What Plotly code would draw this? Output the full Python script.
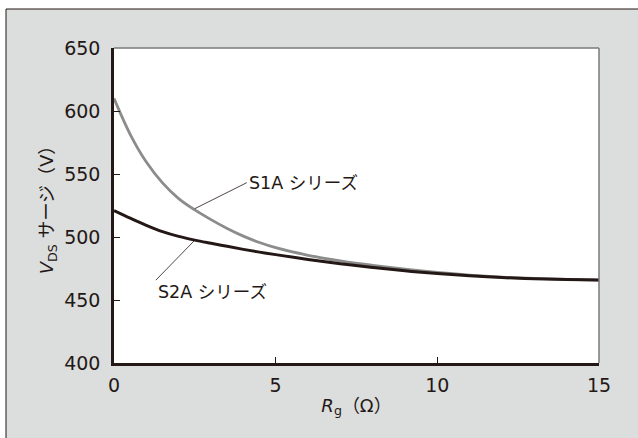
import plotly.graph_objects as go

# ---- data ----
rg_ohm = [0, 0.5, 1, 1.5, 2, 2.5, 3, 3.5, 4, 4.5, 5, 6, 7, 8, 9, 10, 11, 12, 13, 14, 15]
s1a_vds = [610, 581.5, 559.5, 543, 530.5, 521.5, 513.8, 506.8, 500.7, 495.6, 491.5, 485.5, 481, 477.5, 474.5, 471.9, 469.8, 468.2, 467.1, 466.3, 465.8]
s2a_vds = [521, 515, 509.3, 504.3, 500.5, 497.5, 495, 492.6, 490.2, 488, 486, 482.2, 478.8, 475.8, 473.2, 471, 469.2, 467.8, 466.8, 466.2, 465.8]
x_ticks = [0, 5, 10, 15]
y_ticks = [400, 450, 500, 550, 600, 650]
series_names = ["S1A シリーズ", "S2A シリーズ"]

W, H = 638, 438
L, R, T, B = 114, 39, 48, 75
PW, PH = W - L - R, H - T - B

def px_x(p):
    return (p - L) / PW

def px_y(p):
    return (H - B - p) / PH

DARK = "#231815"
GREY_LINE = "#8c8c8c"
PANEL = "#dcdddd"
FONT = "DejaVu Sans, Noto Sans CJK JP, sans-serif"

fig = go.Figure()
fig.add_trace(go.Scatter(x=rg_ohm, y=s1a_vds, mode="lines", name=series_names[0],
                         line=dict(color=GREY_LINE, width=2.8, shape="spline", smoothing=1.0)))
fig.add_trace(go.Scatter(x=rg_ohm, y=s2a_vds, mode="lines", name=series_names[1],
                         line=dict(color=DARK, width=3, shape="spline", smoothing=1.0)))

shapes = [
    # grey panel with thin dark border
    dict(type="rect", xref="paper", yref="paper", x0=px_x(6), x1=px_x(660), y0=px_y(460), y1=px_y(9),
         fillcolor=PANEL, line=dict(color=DARK, width=1), layer="below"),
    # white plot area
    dict(type="rect", xref="paper", yref="paper", x0=0, x1=1, y0=0, y1=1,
         fillcolor="white", line=dict(width=0), layer="below"),
    # top & right frame
    dict(type="line", xref="paper", yref="paper", x0=0, x1=1, y0=1, y1=1,
         line=dict(color="#7a7a7a", width=1.5)),
    dict(type="line", xref="paper", yref="paper", x0=1, x1=1, y0=0, y1=1,
         line=dict(color="#7a7a7a", width=1.5)),
]

annotations = [
    dict(x=rg_ohm[5], y=s1a_vds[5] + 1, xref="x", yref="y", text=series_names[0],
         showarrow=True, arrowhead=0, arrowwidth=0.8, arrowcolor=DARK,
         ax=52, ay=-26, xanchor="left", yanchor="middle",
         font=dict(family=FONT, size=17.5, color=DARK)),
    dict(x=rg_ohm[5], y=s2a_vds[5], xref="x", yref="y", text=series_names[1],
         showarrow=True, arrowhead=0, arrowwidth=0.8, arrowcolor=DARK,
         ax=-39, ay=40, xanchor="left", yanchor="top",
         font=dict(family=FONT, size=17.5, color=DARK)),
]

fig.update_layout(
    width=W, height=H,
    margin=dict(l=L, r=R, t=T, b=B, pad=0),
    paper_bgcolor="white",
    plot_bgcolor="white",
    showlegend=False,
    shapes=shapes,
    annotations=annotations,
    font=dict(family=FONT, size=18, color=DARK),
)
fig.update_xaxes(
    range=[0, 15], tickvals=x_ticks, ticktext=[str(v) for v in x_ticks],
    ticks="inside", ticklen=6, tickwidth=1.2, tickcolor=DARK,
    showline=True, linecolor=DARK, linewidth=2.5, showgrid=False, zeroline=False,
    tickfont=dict(family=FONT, size=19, color=DARK), ticklabelstandoff=3,
    title=dict(text="<i>R</i><sub>g</sub>（Ω）", font=dict(family=FONT, size=18, color=DARK), standoff=5),
    automargin=False,
)
fig.update_yaxes(
    range=[400, 650], tickvals=y_ticks, ticktext=[str(v) for v in y_ticks],
    ticks="inside", ticklen=6, tickwidth=1.2, tickcolor=DARK,
    showline=True, linecolor=DARK, linewidth=2.5, showgrid=False, zeroline=False,
    tickfont=dict(family=FONT, size=19, color=DARK), ticklabelstandoff=7,
    title=dict(text="<i>V</i><sub>DS</sub> サージ（V）", font=dict(family=FONT, size=18, color=DARK), standoff=6),
    automargin=False,
)

fig.write_html("out.html", config={"displayModeBar": False},
               post_script="document.body.style.margin='0';")
